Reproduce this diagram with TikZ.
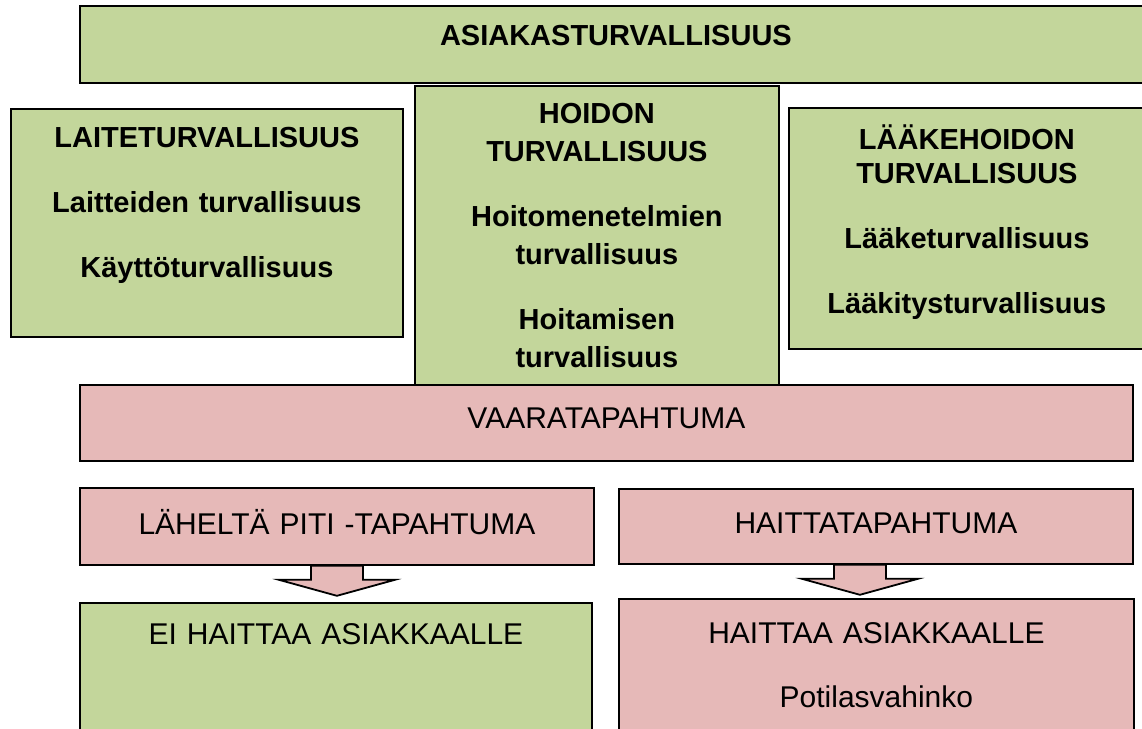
\documentclass[tikz,border=0pt]{standalone}
\usepackage{fontspec}
\setmainfont{Liberation Sans}
\definecolor{boxgreen}{HTML}{C3D69B}
\definecolor{boxpink}{HTML}{E6B9B8}
\tikzset{
  box/.style={draw=black,line width=1.8pt,inner sep=0pt,anchor=north west,align=center,
    font=\fontsize{30}{38}\selectfont},
  green box/.style={box,fill=boxgreen},
  pink box/.style={box,fill=boxpink},
  heading/.style={font=\fontsize{29}{38}\selectfont\bfseries},
  blockarrow/.style={draw=black,line width=1.8pt,fill=boxpink,line join=miter}
}
\newcommand\blockdown[1]{\draw[blockarrow] (#1) ++(-26,0) -- ++(0,14) -- ++(-32,0)
  -- ++(58,16) -- ++(58,-16) -- ++(-32,0) -- ++(0,-14) -- cycle;}
\begin{document}
\begin{tikzpicture}[x=1pt,y=-1pt]
  \useasboundingbox (0,0) rectangle (1142,728);
  \node [green box,heading,text width=1072pt,text height=40pt,text depth=37pt] (asiakas) at (79,5) {ASIAKASTURVALLISUUS};
  \node [green box,heading,text width=392pt,text height=39pt,text depth=189pt] (laite) at (10,108)
    {LAITETURVALLISUUS\\[27pt]Laitteiden turvallisuus\\[27pt]Käyttöturvallisuus};
  \node [green box,heading,text width=356pt,text height=42pt,text depth=199pt] (laake) at (788,107)
    {LÄÄKEHOIDON\\[-4pt]TURVALLISUUS\\[27pt]Lääketurvallisuus\\[27pt]Lääkitysturvallisuus};
  \node [green box,heading,text width=364pt,text height=38pt,text depth=261pt] (hoito) at (414,85)
    {HOIDON\\TURVALLISUUS\\[27pt]Hoitomenetelmien\\turvallisuus\\[27pt]Hoitamisen\\turvallisuus};
  \node [pink box,text width=1053pt,text height=44pt,text depth=32pt] (vaara) at (79,384) {VAARATAPAHTUMA};
  \node [pink box,text width=514pt,text height=47pt,text depth=30pt] (lahelta) at (79,487) {LÄHELTÄ PITI -TAPAHTUMA};
  \node [pink box,text width=514pt,text height=45pt,text depth=30pt] (haitta) at (618,488) {HAITTATAPAHTUMA};
  \node [green box,text width=512pt,text height=42pt,text depth=90pt] (eihaitta) at (79,602) {EI HAITTAA ASIAKKAALLE};
  \node [pink box,text width=515pt,text height=45pt,text depth=92pt] (vahinko) at (618,598)
    {HAITTAA ASIAKKAALLE\\[26pt]Potilasvahinko};
  \blockdown{lahelta.south}
  \blockdown{[xshift=-16pt]haitta.south}
\end{tikzpicture}
\end{document}
